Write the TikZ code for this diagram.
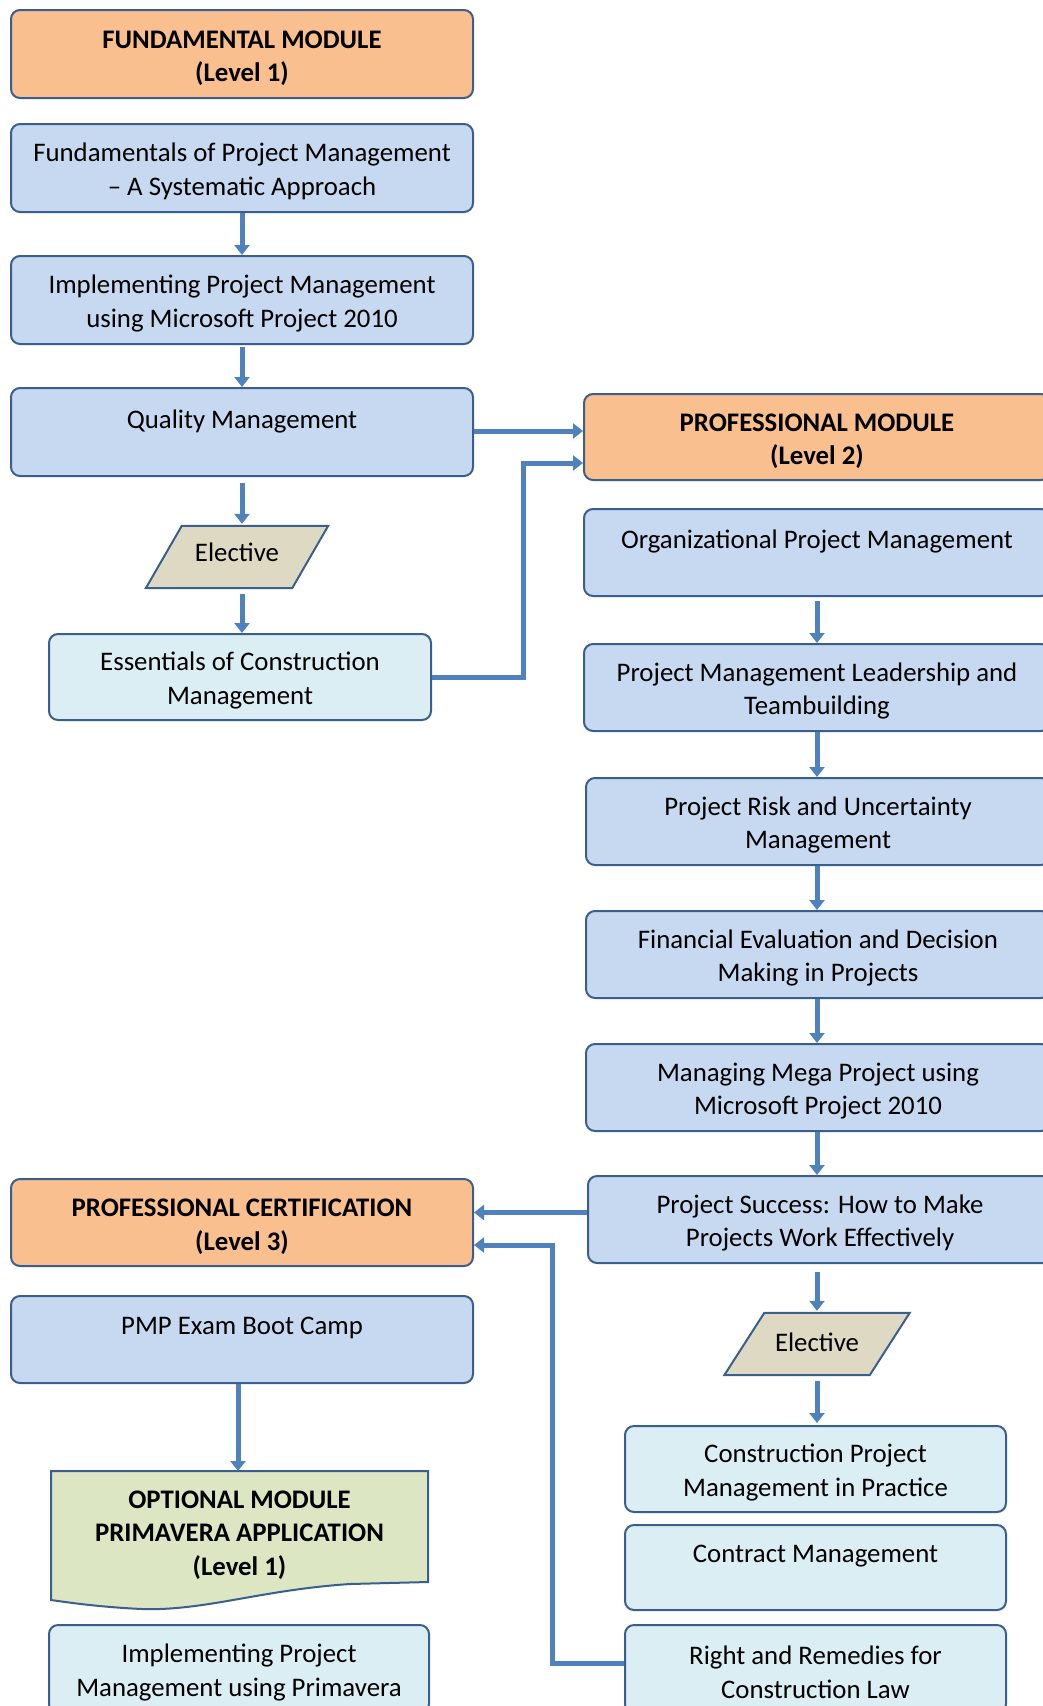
\documentclass[tikz,border=0pt]{standalone}
\usepackage{fontspec}
\setmainfont{Carlito}
\usetikzlibrary{arrows.meta,calc}
\definecolor{orangefill}{HTML}{F9BF8F}
\definecolor{borderblue}{HTML}{3A5F8F}
\definecolor{boxblue}{HTML}{C6D9F1}
\definecolor{lightblue}{HTML}{DBEEF4}
\definecolor{electivefill}{HTML}{DDD9C3}
\definecolor{greenfill}{HTML}{DCE6C2}
\definecolor{arrowblue}{HTML}{4F81BD}
\newcommand{\mytxtfont}{\fontsize{26.8}{33.7}\selectfont}
\tikzset{
  base/.style={draw=borderblue, line width=2pt, rounded corners=9pt, inner sep=0pt},
  bluebox/.style={base, fill=boxblue},
  lightbox/.style={base, fill=lightblue},
  headbox/.style={base, fill=orangefill},
  lbl/.style={align=center, font=\mytxtfont, inner sep=0pt, yshift=-3.6pt},
  hlbl/.style={lbl, font=\mytxtfont\bfseries, yshift=-0.5pt},
  conn/.style={draw=arrowblue, line width=5pt, -{Triangle[width=15pt,length=10pt]}},
  elshape/.style={draw=borderblue, line width=2pt, fill=electivefill, line join=miter},
  txt/.style={align=center, font=\mytxtfont, inner sep=0pt},
}
\begin{document}
\begin{tikzpicture}[x=1pt,y=-1pt]
\useasboundingbox (0,0) rectangle (1043,1706);
\clip (0,0) rectangle (1043,1706);

% ---------- left column ----------
\node[headbox, minimum width=462, minimum height=88, label={[hlbl]center:{FUNDAMENTAL MODULE\\(Level 1)}}] (fm) at (242,54) {};
\node[bluebox, minimum width=462, minimum height=88, label={[lbl]center:{Fundamentals of Project Management\\– A Systematic Approach}}] (fpm) at (242,168) {};
\node[bluebox, minimum width=462, minimum height=88, label={[lbl]center:{Implementing Project Management\\using Microsoft Project 2010}}] (ipm) at (242,300) {};
\node[bluebox, minimum width=462, minimum height=88, label={[lbl]center:{Quality Management\\~}}] (qm) at (242,432) {};

% Elective 1 (parallelogram)
\node[txt, minimum width=146, minimum height=62] (el1) at (237,557) {};
\filldraw[elshape] ($(el1.south west)+(-18,0)$) -- ($(el1.south east)+(-18,0)$) -- ($(el1.north east)+(18,0)$) -- ($(el1.north west)+(18,0)$) -- cycle;
\node[txt] (el1t) at ([yshift=4.6pt]el1.center) {Elective};

\node[lightbox, minimum width=382, minimum height=86, label={[lbl]center:{Essentials of Construction\\Management}}] (ess) at (240,677) {};

\node[headbox, minimum width=462, minimum height=87, label={[hlbl]center:{PROFESSIONAL CERTIFICATION\\(Level 3)}}] (pc) at (242,1222.5) {};
\node[bluebox, minimum width=462, minimum height=87, label={[lbl]center:{PMP Exam Boot Camp\\~}}] (pmp) at (242,1339.5) {};

% Optional module (document shape)
\filldraw[draw=borderblue, line width=2pt, fill=greenfill, line join=miter]
  (51,1471) -- (428,1471) -- (428,1582) -- (350,1584)
  .. controls (260,1590) and (205,1611) .. (142,1609)
  .. controls (100,1607) and (72,1603) .. (51,1600) -- cycle;
\node[txt, font=\mytxtfont\bfseries, minimum width=377, minimum height=129] (opt) at (239.5,1535) {OPTIONAL MODULE\\PRIMAVERA APPLICATION\\(Level 1)};
\coordinate (opttop) at (238,1471);

\node[lightbox, minimum width=380, minimum height=88, label={[lbl]center:{Implementing Project\\Management using Primavera}}] (ipr) at (239,1669) {};

% ---------- right column ----------
\node[headbox, minimum width=466, minimum height=86, label={[hlbl]center:{PROFESSIONAL MODULE\\(Level 2)}}] (pm) at (817,437) {};
\node[bluebox, minimum width=466, minimum height=87, label={[lbl]center:{Organizational Project Management\\~}}] (org) at (817,552.5) {};
\node[bluebox, minimum width=466, minimum height=87, label={[lbl]center:{Project Management Leadership and\\Teambuilding}}] (lead) at (817,687.5) {};
\node[bluebox, minimum width=464, minimum height=87, label={[lbl]center:{Project Risk and Uncertainty\\Management}}] (risk) at (818,821.5) {};
\node[bluebox, minimum width=464, minimum height=87, label={[lbl]center:{Financial Evaluation and Decision\\Making in Projects}}] (fin) at (818,954.5) {};
\node[bluebox, minimum width=464, minimum height=87, label={[lbl]center:{Managing Mega Project using\\Microsoft Project 2010}}] (mega) at (818,1087.5) {};
\node[bluebox, minimum width=464, minimum height=87, label={[lbl]center:{Project Success: How to Make\\Projects Work Effectively}}] (ps) at (820,1219.5) {};

% Elective 2
\node[txt, minimum width=145, minimum height=62] (el2) at (817,1344) {};
\filldraw[elshape] ($(el2.south west)+(-20,0)$) -- ($(el2.south east)+(-20,0)$) -- ($(el2.north east)+(20,0)$) -- ($(el2.north west)+(20,0)$) -- cycle;
\node[txt] (el2t) at ([yshift=1.6pt]el2.center) {Elective};

\node[lightbox, minimum width=381, minimum height=86, label={[lbl]center:{Construction Project\\Management in Practice}}] (cpp) at (815.5,1469) {};
\node[lightbox, minimum width=381, minimum height=85, label={[lbl]center:{Contract Management\\~}}] (cm) at (815.5,1567.5) {};
\node[lightbox, minimum width=381, minimum height=88, label={[lbl]center:{Right and Remedies for\\Construction Law}}] (rr) at (815.5,1669) {};

% ---------- connectors ----------
\draw[conn] (fpm.south) -- (ipm.north);
\draw[conn] ([yshift=-2pt]ipm.south) -- (qm.north);
\draw[conn] ([yshift=-6pt]qm.south) -- ([yshift=2pt]el1.north -| qm.south);
\draw[conn] ([yshift=-6pt]el1.south -| qm.south) -- (ess.north -| qm.south);

\draw[conn] ([yshift=1pt]qm.east) -- ([yshift=1pt]qm.east -| pm.west);
\coordinate (j1) at (523,463);
\draw[conn] (ess.east) -| (j1) -- (j1 -| pm.west);

\draw[conn] ([yshift=-4pt]org.south) -- (lead.north);
\draw[conn] (lead.south) -- (risk.north -| lead.south);
\draw[conn] (risk.south -| lead.south) -- (fin.north -| lead.south);
\draw[conn] (fin.south -| lead.south) -- (mega.north -| lead.south);
\draw[conn] (mega.south -| lead.south) -- (ps.north -| lead.south);
\draw[conn] ([yshift=-8pt]ps.south -| lead.south) -- ([yshift=2pt]el2.north -| lead.south);
\draw[conn] ([yshift=-6pt]el2.south -| lead.south) -- ([yshift=2pt]cpp.north -| lead.south);

\draw[conn] ([yshift=7pt]ps.west) -- ([yshift=7pt]ps.west -| pc.east);
\coordinate (j2) at (552,1245);
\draw[conn] ([yshift=6pt]rr.west) -| (j2) -- (j2 -| pc.east);

\draw[conn] (pmp.south -| opttop) -- (opttop);
\end{tikzpicture}
\end{document}
